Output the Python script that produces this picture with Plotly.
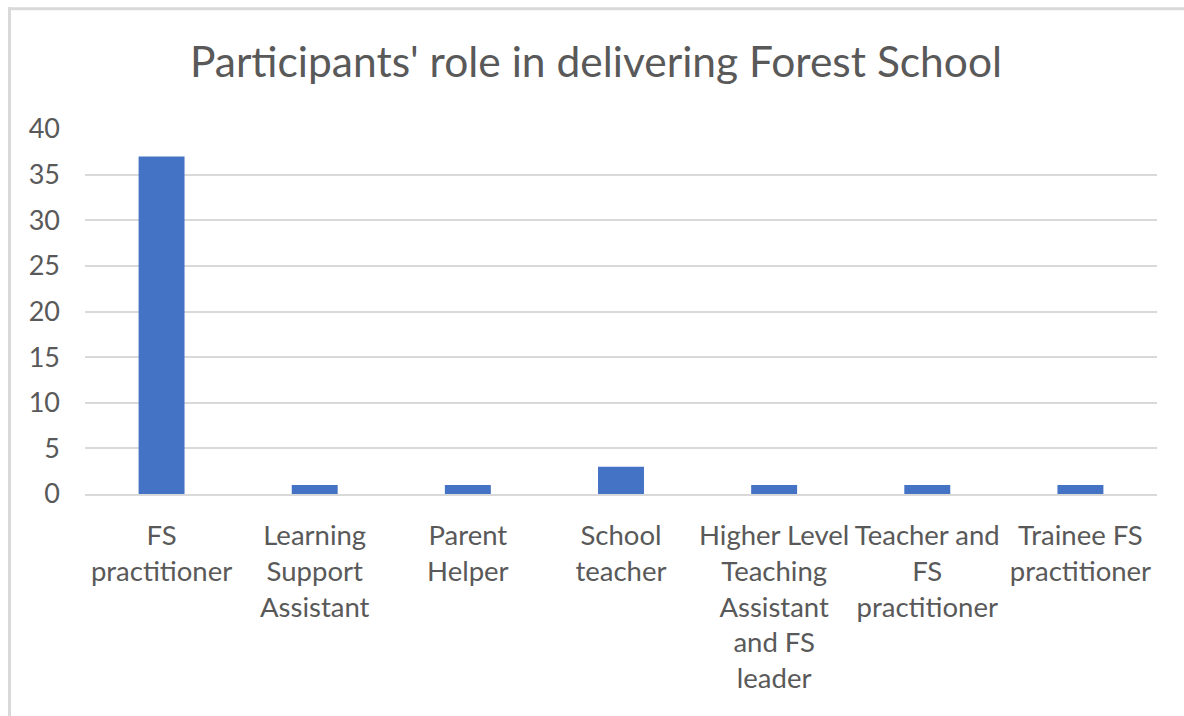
import plotly.graph_objects as go

categories = [
    "FS<br>practitioner",
    "Learning<br>Support<br>Assistant",
    "Parent<br>Helper",
    "School<br>teacher",
    "Higher Level<br>Teaching<br>Assistant<br>and FS<br>leader",
    "Teacher and<br>FS<br>practitioner",
    "Trainee FS<br>practitioner",
]
values = [37, 1, 1, 3, 1, 1, 1]
y_ticks = [0, 5, 10, 15, 20, 25, 30, 35, 40]

TEXT = "#595959"
GRID = "#d9d9d9"
FONT = "Lato"

fig = go.Figure(
    go.Bar(
        x=categories,
        y=values,
        marker=dict(color="#4472C4", line=dict(width=0)),
        width=0.3,
    )
)

L, R, T, B = 85, 27, 129, 221.5
W, H = 1184, 716
pw, ph = W - L - R, H - T - B

def px_x(p):
    return (p - L) / pw

def px_y(p):
    return (H - B - p) / ph

frame_line = dict(color=GRID, width=3)

fig.update_layout(
    width=W,
    height=H,
    margin=dict(l=L, r=R, t=T, b=B),
    paper_bgcolor="white",
    plot_bgcolor="white",
    showlegend=False,
    title=dict(
        text="Participants' role in delivering Forest School",
        font=dict(family=FONT, size=42.5, color=TEXT),
        x=0.5 + 4 / W,
        xanchor="center",
        y=1 - 62 / H,
        yanchor="middle",
    ),
    xaxis=dict(
        tickfont=dict(family=FONT, size=27.5, color=TEXT),
        showgrid=False,
        showline=True,
        linecolor=GRID,
        linewidth=2,
        ticks="",
        ticklabelstandoff=16,
    ),
    yaxis=dict(
        range=[0, 40],
        tickvals=y_ticks,
        tickfont=dict(family=FONT, size=27, color=TEXT),
        showgrid=True,
        gridcolor=GRID,
        gridwidth=2,
        zeroline=False,
        showline=False,
        ticks="",
        ticklabelstandoff=24,
    ),
    shapes=[
        dict(type="line", xref="paper", yref="paper",
             x0=px_x(8), x1=px_x(1190), y0=px_y(8.5), y1=px_y(8.5),
             line=frame_line, layer="below"),
        dict(type="line", xref="paper", yref="paper",
             x0=px_x(9.5), x1=px_x(9.5), y0=px_y(7), y1=px_y(720),
             line=frame_line, layer="below"),
    ],
)

fig.write_html(
    "out.html",
    config={"displayModeBar": False},
    post_script=(
        "document.documentElement.style.overflow='hidden';"
        "document.documentElement.style.margin='0';"
        "document.body.style.margin='0';"
        "document.body.style.overflow='hidden';"
    ),
)
